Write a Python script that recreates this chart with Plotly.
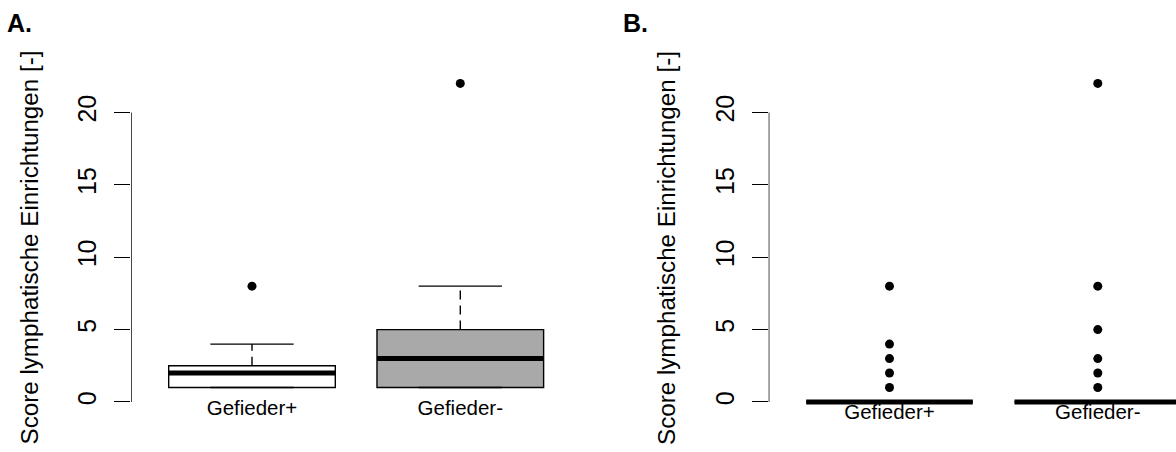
import plotly.graph_objects as go

# ---------------- data ----------------
groups = ["Gefieder+", "Gefieder-"]
positions = [1, 2]

# Panel A: boxplot statistics
a_lower = [1, 1]
a_q1 = [1, 1]
a_median = [2, 3]
a_q3 = [2.5, 5]
a_upper = [4, 8]
a_outliers = [[8], [22]]
a_fill = ["#ffffff", "#a9a9a9"]

# Panel B: boxplot statistics (box collapsed at 0)
b_lower = [0, 0]
b_q1 = [0, 0]
b_median = [0, 0]
b_q3 = [0, 0]
b_upper = [0, 0]
b_outliers = [[1, 2, 3, 4, 8], [1, 2, 3, 5, 8, 22]]
b_fill = ["#ffffff", "#ffffff"]

y_ticks = [0, 5, 10, 15, 20]
y_title = "Score lymphatische Einrichtungen [-]"
panel_labels = ["A.", "B."]

# ---------------- layout constants (pixels) ----------------
W, H = 1176, 452
FONT = "Liberation Sans, Arial, Helvetica, sans-serif"
PX_PER_UNIT = 14.48
ZERO_PX = 402.0
CAT_SPACING = 208.3
BOXW = 0.8
LW = 1.4


def px(x):
    return x / W


def py(y):
    return 1 - y / H


def yrange(lower, outliers):
    lo = min(min(lower), y_ticks[0])
    hi = max(max(o) for o in outliers)
    pad = 0.04 * (hi - lo)
    return [lo - pad, hi + pad]


fig = go.Figure()


def add_panel(xa, ya, lower, q1, med, q3, upper, outs, fills):
    xref = "x" if xa == 1 else "x%d" % xa
    yref = "y" if ya == 1 else "y%d" % ya
    for i, pos in enumerate(positions):
        # box body
        fig.add_trace(go.Box(
            x=[pos], q1=[q1[i]], median=[med[i]], q3=[q3[i]],
            lowerfence=[q1[i]], upperfence=[q3[i]],
            width=BOXW, whiskerwidth=0, fillcolor=fills[i],
            line=dict(color="black", width=LW),
            xaxis=xref, yaxis=yref, hoverinfo="skip", showlegend=False))
        # dashed whiskers
        for a, b in ((q3[i], upper[i]), (q1[i], lower[i])):
            if a != b:
                fig.add_trace(go.Scatter(
                    x=[pos, pos], y=[a, b], mode="lines",
                    line=dict(color="black", width=LW, dash="9px,6px"),
                    xaxis=xref, yaxis=yref, hoverinfo="skip", showlegend=False))
        # staples
        for v in (upper[i], lower[i]):
            fig.add_trace(go.Scatter(
                x=[pos - BOXW / 4, pos + BOXW / 4], y=[v, v], mode="lines",
                line=dict(color="black", width=LW),
                xaxis=xref, yaxis=yref, hoverinfo="skip", showlegend=False))
        # thick median
        fig.add_trace(go.Scatter(
            x=[pos - BOXW / 2, pos + BOXW / 2], y=[med[i], med[i]], mode="lines",
            line=dict(color="black", width=5),
            xaxis=xref, yaxis=yref, hoverinfo="skip", showlegend=False))
        # outliers
        fig.add_trace(go.Scatter(
            x=[pos] * len(outs[i]), y=outs[i], mode="markers",
            marker=dict(color="black", size=9, line=dict(width=0)),
            xaxis=xref, yaxis=yref, hoverinfo="skip", showlegend=False))


add_panel(1, 1, a_lower, a_q1, a_median, a_q3, a_upper, a_outliers, a_fill)
add_panel(2, 2, b_lower, b_q1, b_median, b_q3, b_upper, b_outliers, b_fill)

yrA = yrange(a_lower, a_outliers)
yrB = yrange(b_lower, b_outliers)
xr_lo = 0.42

# pixel geometry
axA_px = 252.0 - (1 - xr_lo) * CAT_SPACING
axB_px = 889.5 - (1 - xr_lo) * CAT_SPACING
xrA = [xr_lo, xr_lo + (581.1 - axA_px) / CAT_SPACING]
xrB = [xr_lo, xr_lo + (W - axB_px) / CAT_SPACING]


def ydom(r):
    bot = ZERO_PX - r[0] * PX_PER_UNIT
    top = ZERO_PX - r[1] * PX_PER_UNIT
    return [py(bot), py(top)]


yaxis_common = dict(
    tickvals=y_ticks, ticktext=[str(t) for t in y_ticks], ticks="outside",
    ticklen=16, tickwidth=LW, tickcolor="black", tickangle=-90,
    ticklabelstandoff=8,
    showline=False, showgrid=False, zeroline=False,
    tickfont=dict(family=FONT, size=25, color="black"),
)
xaxis_common = dict(
    tickvals=positions, ticktext=groups, ticks="", showline=False,
    showgrid=False, zeroline=False,
    tickfont=dict(family=FONT, size=20.5, color="black"),
)

fig.update_layout(
    width=W, height=H, margin=dict(l=0, r=0, t=0, b=0),
    paper_bgcolor="white", plot_bgcolor="white", showlegend=False,
    font=dict(family=FONT, color="black"),
    xaxis=dict(domain=[px(axA_px), px(581.1)], range=xrA, anchor="free",
               position=py(393.7), **xaxis_common),
    yaxis=dict(domain=ydom(yrA), range=yrA, anchor="x", **yaxis_common),
    xaxis2=dict(domain=[px(axB_px), 1.0], range=xrB, anchor="free",
                position=py(397.5), **xaxis_common),
    yaxis2=dict(domain=ydom(yrB), range=yrB, anchor="x2", **yaxis_common),
)

# axis lines spanning first to last tick (R style)
for xref, yref in (("x", "y"), ("x2", "y2")):
    fig.add_shape(type="line", xref=xref, yref=yref, x0=xr_lo, x1=xr_lo,
                  y0=y_ticks[0], y1=y_ticks[-1],
                  line=dict(color="black", width=LW))

# axis titles and panel labels
for cx in (29.5, 29.5 + (axB_px - axA_px)):
    fig.add_annotation(text=y_title, xref="paper", yref="paper",
                       x=px(cx), y=py(248), xanchor="center", yanchor="middle",
                       textangle=-90, showarrow=False,
                       font=dict(family=FONT, size=24.2, color="black"))
for lab, lx in zip(panel_labels, (7.3, 623.3)):
    fig.add_annotation(text="<b>%s</b>" % lab, xref="paper", yref="paper",
                       x=px(lx - 2), y=py(23), xanchor="left", yanchor="middle",
                       showarrow=False,
                       font=dict(family=FONT, size=25, color="black"))

fig.write_html("out.html")
